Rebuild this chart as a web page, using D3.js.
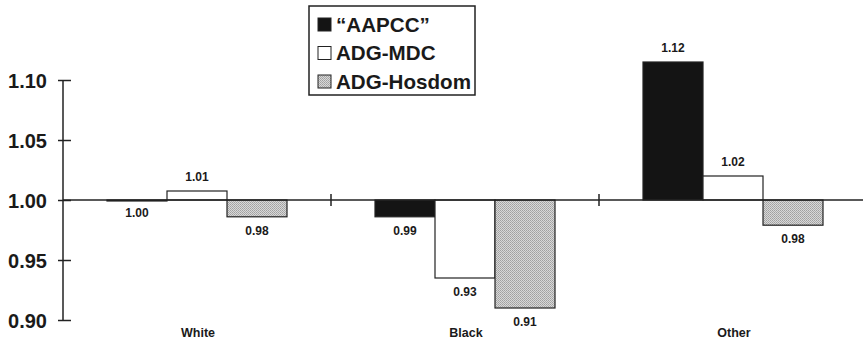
<!DOCTYPE html>
<html><head><meta charset="utf-8">
<script src="https://cdn.jsdelivr.net/npm/d3@7"></script>
<style>body{margin:0;background:#fff}svg{display:block}</style>
</head><body>
<svg id="c" width="863" height="340"></svg>
<script>
const categories = ["White", "Black", "Other"];
const seriesNames = ["\u201CAAPCC\u201D", "ADG-MDC", "ADG-Hosdom"];
const aapcc  = [0.9995, 0.986, 1.115];
const adgMdc = [1.0075, 0.935, 1.020];
const adgHos = [0.986, 0.910, 0.979];
const aapccLabels  = ["1.00", "0.99", "1.12"];
const adgMdcLabels = ["1.01", "0.93", "1.02"];
const adgHosLabels = ["0.98", "0.91", "0.98"];
const yTicks = [0.90, 0.95, 1.00, 1.05, 1.10];

const seriesVals = [aapcc, adgMdc, adgHos];
const seriesLbls = [aapccLabels, adgMdcLabels, adgHosLabels];

const svg = d3.select("#c");
const defs = svg.append("defs");
const pat = defs.append("pattern").attr("id","stip").attr("patternUnits","userSpaceOnUse")
  .attr("width",2).attr("height",2);
pat.append("rect").attr("width",2).attr("height",2).attr("fill","#d8d8d8");
pat.append("rect").attr("width",1).attr("height",1).attr("fill","#a0a0a0");
pat.append("rect").attr("x",1).attr("y",1).attr("width",1).attr("height",1).attr("fill","#acacac");

const fills = ["#141414", "#ffffff", "url(#stip)"];

const x0 = 63, x1 = 863;
const y = d3.scaleLinear().domain([0.90, 1.10]).range([320, 80]);
const xb = d3.scaleBand().domain(categories).range([x0, 867]);
const xs = d3.scaleBand().domain(d3.range(3)).range([0, 180]);
const off = (xb.bandwidth() - 180) / 2;

// y axis
const ax = svg.append("g").attr("transform", `translate(${x0},0)`)
  .call(d3.axisLeft(y).tickValues(yTicks).tickFormat(d3.format(".2f")).tickSize(5).tickSizeOuter(0));
ax.select(".domain").remove();
ax.append("line").attr("x1",0).attr("x2",0).attr("y1",y(1.10)).attr("y2",y(0.90))
  .attr("stroke","#222").attr("stroke-width",1.5);
ax.selectAll(".tick line").attr("x1",-5).attr("x2",8).attr("stroke","#222").attr("stroke-width",1.5);
ax.selectAll(".tick text").attr("x",-16).attr("dy","0.36em")
  .style("font","bold 20px 'Liberation Sans', Arial, sans-serif").attr("fill","#1a1a1a");

// bars
categories.forEach((c, ci) => {
  seriesVals.forEach((vals, si) => {
    const v = vals[ci];
    const bx = xb(c) + off + xs(si);
    const top = Math.min(y(v), y(1)), bot = Math.max(y(v), y(1));
    svg.append("rect").attr("x", bx).attr("y", top).attr("width", xs.bandwidth())
      .attr("height", Math.max(bot - top, 1))
      .attr("fill", fills[si]).attr("stroke", "#222").attr("stroke-width", 1.2);
    const ly = v >= 1 && si !== 0 || v > 1.001 ? y(v) - 10 : y(v) + 18;
    svg.append("text").attr("x", bx + xs.bandwidth()/2).attr("y", ci===0 && si===0 ? y(1)+17 : ly)
      .attr("text-anchor","middle")
      .style("font","bold 12px 'Liberation Sans', Arial, sans-serif").attr("fill","#1a1a1a")
      .text(seriesLbls[si][ci]);
  });
  svg.append("text").attr("x", xb(c) + xb.bandwidth()/2 + 1).attr("y", 337)
    .attr("text-anchor","middle")
    .style("font","bold 12.5px 'Liberation Sans', Arial, sans-serif").attr("fill","#1a1a1a")
    .text(c);
});

// baseline and separators
svg.append("line").attr("x1", x0).attr("x2", x1).attr("y1", y(1)).attr("y2", y(1))
  .attr("stroke","#222").attr("stroke-width",1.3);
categories.slice(1).forEach(c => {
  svg.append("line").attr("x1", xb(c)).attr("x2", xb(c)).attr("y1", y(1)-6).attr("y2", y(1)+6)
    .attr("stroke","#222").attr("stroke-width",1.5);
});

// legend
const lg = svg.append("g");
lg.append("rect").attr("x",309).attr("y",6).attr("width",166).attr("height",89)
  .attr("fill","#fff").attr("stroke","#222").attr("stroke-width",1.5);
seriesNames.forEach((n, i) => {
  const cy = 24 + i * 28.5;
  lg.append("rect").attr("x",318).attr("y",cy-6).attr("width",13).attr("height",13)
    .attr("fill",fills[i]).attr("stroke","#222").attr("stroke-width",1);
  lg.append("text").attr("x",336).attr("y",cy+7.5)
    .style("font","bold 20.6px 'Liberation Sans', Arial, sans-serif").attr("fill","#1a1a1a")
    .text(n);
});
</script>
</body></html>
